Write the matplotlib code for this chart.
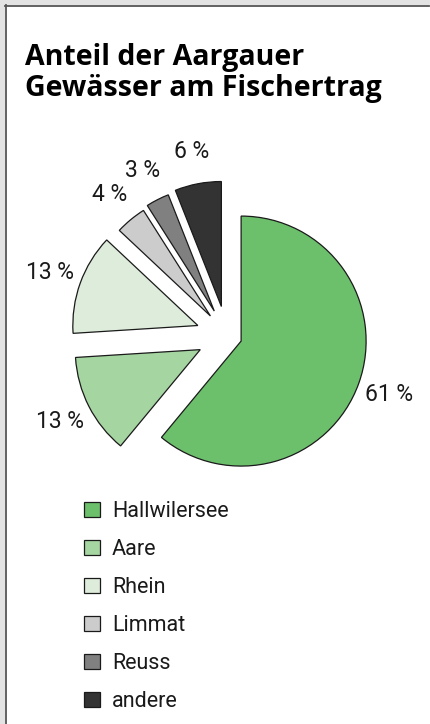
import matplotlib
matplotlib.use("Agg")
import matplotlib.pyplot as plt
from matplotlib.patches import Rectangle
from matplotlib.lines import Line2D

# data
gewaesser = ["Hallwilersee", "Aare", "Rhein", "Limmat", "Reuss", "andere"]
anteil = [61, 13, 13, 4, 3, 6]
farben = ["#6cc06c", "#a5d5a0", "#deeddb", "#cccccc", "#808080", "#333333"]

# slices are pulled apart, the big one only a little
explode = [15, 30, 31, 26, 28, 30]

label_font = ["Roboto", "DejaVu Sans"]

fig = plt.figure(figsize=(4.30, 7.24), dpi=100)
fig.patch.set_facecolor("white")

# frame: light grey band on top/left, dark line inside
fig.patches.append(Rectangle((0, 0), 5 / 430, 1, transform=fig.transFigure,
                             facecolor="#e3e3e3", edgecolor="none"))
fig.patches.append(Rectangle((0, 1 - 5 / 724), 1, 5 / 724, transform=fig.transFigure,
                             facecolor="#e3e3e3", edgecolor="none"))
fig.lines.append(Line2D([5.5 / 430, 5.5 / 430], [0, 1 - 5 / 724], transform=fig.transFigure,
                        color="#555555", linewidth=1.3))
fig.lines.append(Line2D([5 / 430, 429 / 430], [1 - 5.5 / 724, 1 - 5.5 / 724],
                        transform=fig.transFigure, color="#555555", linewidth=1.3))

# title
fig.text(25 / 430, 1 - 65 / 724, "Anteil der Aargauer", fontsize=20.5, fontweight="bold",
         family="Open Sans", va="baseline", ha="left", color="black")
fig.text(25 / 430, 1 - 96 / 724, "Gewässer am Fischertrag", fontsize=20.5, fontweight="bold",
         family="Open Sans", va="baseline", ha="left", color="black")

ax = fig.add_axes([0, 0, 1, 1])
ax.set_facecolor("none")
wedges, texts, autotexts = ax.pie(
    anteil,
    explode=explode,
    colors=farben,
    center=(227, 388),
    radius=125,
    startangle=90,
    counterclock=False,
    autopct=lambda p: f"{p:.0f} %",
    pctdistance=1.26,
    wedgeprops=dict(edgecolor="#1a1a1a", linewidth=0.9),
)
for t in autotexts:
    t.set_fontsize(16.5)
    t.set_family(label_font)
    t.set_color("#1a1a1a")

ax.set_xlim(0, 430)
ax.set_ylim(0, 724)
ax.set_aspect("equal")
ax.axis("off")

leg = ax.legend(wedges, gewaesser, loc="upper left", bbox_to_anchor=(84, 724 - 501),
                bbox_transform=ax.transData, frameon=False, borderpad=0, borderaxespad=0,
                handlelength=0.74, handleheight=0.74, handletextpad=0.56, labelspacing=0.79,
                prop=dict(family=label_font, size=15.5))
for t in leg.get_texts():
    t.set_color("#1a1a1a")

fig.savefig("out.png", dpi=100)
